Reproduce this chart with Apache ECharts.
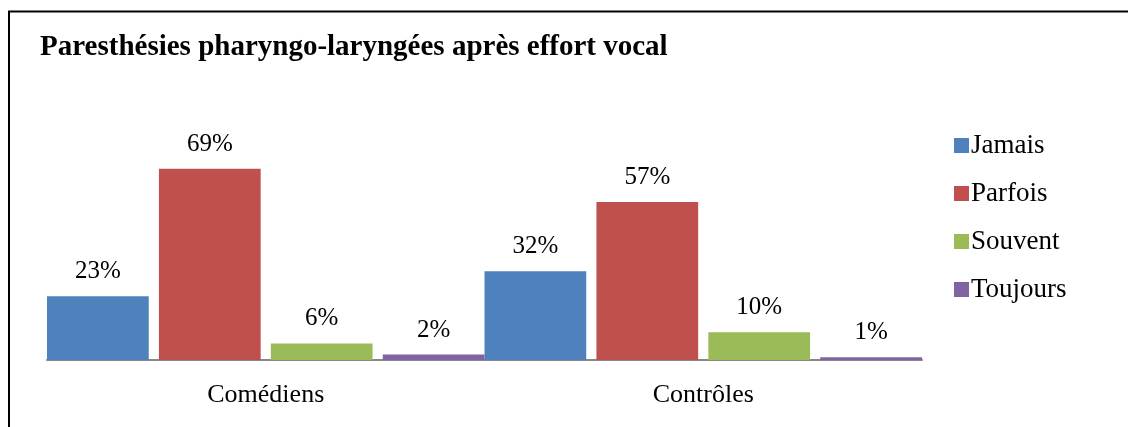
<!DOCTYPE html>
<html>
<head>
<meta charset="utf-8">
<script src="https://cdn.jsdelivr.net/npm/echarts@6/dist/echarts.min.js"></script>
<style>
  html, body { margin: 0; padding: 0; background: #fff; }
  #chart { width: 1128px; height: 427px; }
</style>
</head>
<body>
<div id="chart"></div>
<script>
// data (percent)
const groups = ["Comédiens", "Contrôles"];
const seriesNames = ["Jamais", "Parfois", "Souvent", "Toujours"];
const jamais = [23, 32];
const parfois = [69, 57];
const souvent = [6, 10];
const toujours = [2, 1];
const colors = ["#4f81bd", "#c0504d", "#9bbb59", "#8064a2"];

const font = "'Liberation Serif', 'Times New Roman', serif";
const values = [jamais, parfois, souvent, toujours];

const chart = echarts.init(document.getElementById("chart"));

chart.setOption({
    animation: false,
    textStyle: { fontFamily: font },
    title: {
        text: "Paresthésies pharyngo-laryngées après effort vocal",
        left: 35,
        top: 28,
        textStyle: { fontFamily: font, fontSize: 29, fontWeight: "bold", color: "#000" },
    },
    graphic: [
        {
            type: "polyline",
            shape: { points: [[9, 440], [9, 11.5], [1130, 11.5]] },
            style: { stroke: "#000", lineWidth: 2, fill: null },
        },
    ],
    legend: {
        orient: "vertical",
        left: 949,
        top: 127,
        itemWidth: 15,
        itemHeight: 15,
        itemGap: 21,
        icon: "rect",
        textStyle: { fontFamily: font, fontSize: 27, color: "#000", padding: [0, 0, 0, -3] },
        data: seriesNames,
    },
    grid: { left: 47, right: 206, top: 138.4, bottom: 67, containLabel: false },
    xAxis: {
        type: "category",
        data: groups,
        axisLine: { lineStyle: { color: "#888", width: 2 } },
        axisTick: { show: false },
        axisLabel: { color: "#000", fontFamily: font, fontSize: 26, margin: 22 },
    },
    yAxis: {
        type: "value",
        min: 0,
        max: 80,
        show: false,
        splitLine: { show: false },
    },
    series: seriesNames.map((name, i) => ({
        name,
        type: "bar",
        data: values[i],
        barGap: "10%",
        barCategoryGap: "0%",
        itemStyle: { color: colors[i] },
        label: {
            show: true,
            position: "top",
            distance: 12,
            formatter: "{c}%",
            color: "#000",
            fontFamily: font,
            fontSize: 25,
        },
    })),
});
</script>
</body>
</html>
